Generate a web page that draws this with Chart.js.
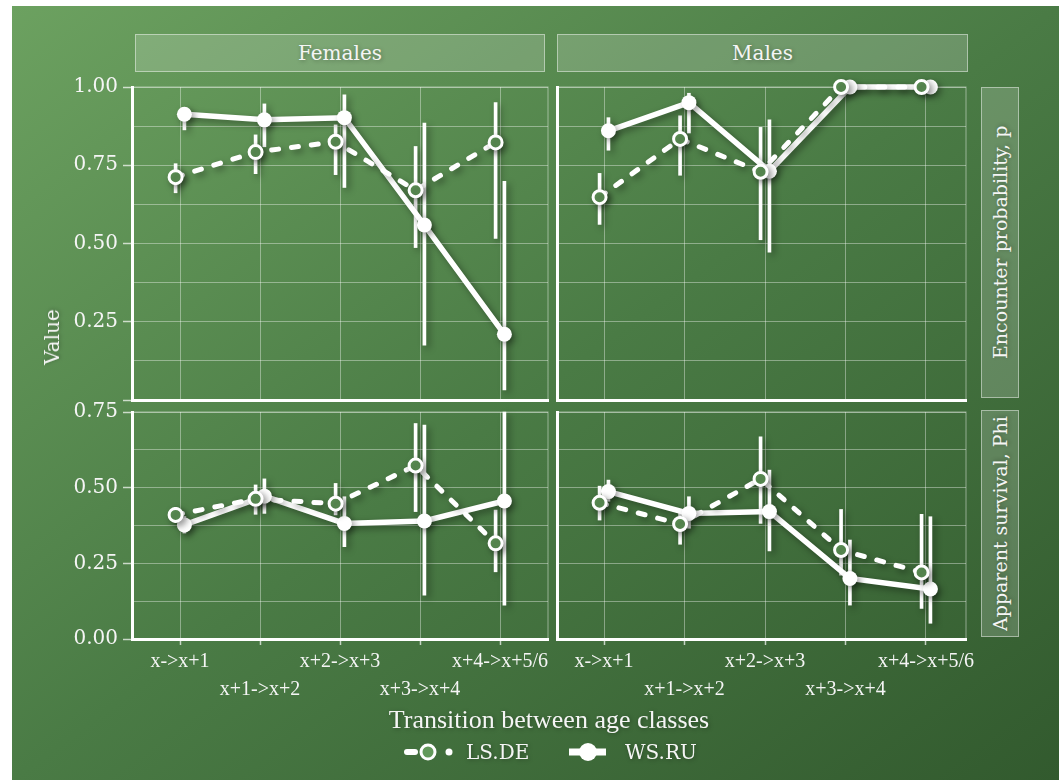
<!DOCTYPE html>
<html>
<head>
<meta charset="utf-8">
<script src="https://cdn.jsdelivr.net/npm/chart.js@4.4.1/dist/chart.umd.min.js"></script>
<style>
body { margin: 0; width: 1063px; height: 780px; background: #fff; position: relative; overflow: hidden; font-family: "DejaVu Serif", serif; color: #f5f5f5; }
#bg { position: absolute; left: 12px; top: 6px; width: 1047px; height: 774px; background: linear-gradient(to bottom right, #6ca160 0%, #4a7b45 50%, #325a2e 100%); }
canvas { position: absolute; }
.strip { position: absolute; box-sizing: border-box; background: rgba(255,255,255,0.18); border: 1.5px solid rgba(255,255,255,0.45); display: flex; align-items: center; justify-content: center; font-size: 20px; text-shadow: 1px 1px 4px rgba(0,0,0,0.3); }
.vert { writing-mode: vertical-rl; transform: rotate(180deg); font-size: 19px; }
.lbl { position: absolute; text-shadow: 1px 1px 4px rgba(0,0,0,0.35); white-space: nowrap; }
</style>
</head>
<body>
<div id="bg"></div>

<div class="strip" style="left:135px;top:34px;width:410px;height:38px;">Females</div>
<div class="strip" style="left:557px;top:34px;width:411px;height:38px;">Males</div>
<div class="strip vert" style="left:981px;top:87px;width:38px;height:311px;">Encounter probability, p</div>
<div class="strip vert" style="left:981px;top:410px;width:38px;height:227px;">Apparent survival, Phi</div>

<canvas id="femP"></canvas>
<canvas id="maleP"></canvas>
<canvas id="femS"></canvas>
<canvas id="maleS"></canvas>

<div class="lbl" style="left:52px;top:337px;transform:translate(-50%,-50%) rotate(-90deg);font-size:20px;">Value</div>
<div class="lbl" style="left:549px;top:720px;transform:translate(-50%,-50%);font-family:'Liberation Serif';font-size:26px;">Transition between age classes</div>

<svg style="position:absolute;left:398px;top:740px;" width="64" height="24">
  <line x1="9" y1="12" x2="17" y2="12" stroke="#fff" stroke-width="6" stroke-linecap="round"/>
  <circle cx="30" cy="12" r="7" fill="#62995a" stroke="#fff" stroke-width="3"/>
  <circle cx="51" cy="12" r="3.5" fill="#fff"/>
</svg>
<div class="lbl" style="left:466px;top:740px;font-size:20px;line-height:24px;">LS.DE</div>
<svg style="position:absolute;left:562px;top:740px;" width="52" height="24">
  <line x1="7" y1="12" x2="44" y2="12" stroke="#fff" stroke-width="7"/>
  <circle cx="26" cy="12" r="9" fill="#fff"/>
</svg>
<div class="lbl" style="left:625px;top:740px;font-size:20px;line-height:24px;">WS.RU</div>

<script>
const cats = ['x->x+1', 'x+1->x+2', 'x+2->x+3', 'x+3->x+4', 'x+4->x+5/6'];

// Females, encounter probability p
const femPLs = [0.712, 0.792, 0.825, 0.670, 0.823];
const femPLsLo = [0.662, 0.723, 0.720, 0.487, 0.516];
const femPLsHi = [0.755, 0.847, 0.879, 0.810, 0.950];
const femPWs = [0.913, 0.895, 0.902, 0.559, 0.210];
const femPWsLo = [0.863, 0.809, 0.679, 0.175, 0.032];
const femPWsHi = [0.935, 0.946, 0.975, 0.885, 0.699];

// Males, encounter probability p
const malePLs = [0.648, 0.834, 0.729, 1.0, 1.0];
const malePLsLo = [0.561, 0.718, 0.512, 1.0, 1.0];
const malePLsHi = [0.724, 0.908, 0.871, 1.0, 1.0];
const malePWs = [0.860, 0.950, 0.731, 1.0, 1.0];
const malePWsLo = [0.798, 0.853, 0.472, 1.0, 1.0];
const malePWsHi = [0.902, 0.980, 0.895, 1.0, 1.0];

// Females, apparent survival Phi
const femSLs = [0.410, 0.463, 0.447, 0.573, 0.316];
const femSLsLo = [0.385, 0.412, 0.410, 0.421, 0.222];
const femSLsHi = [0.435, 0.509, 0.514, 0.712, 0.426];
const femSWs = [0.377, 0.472, 0.382, 0.390, 0.456];
const femSWsLo = [0.350, 0.415, 0.305, 0.145, 0.112];
const femSWsHi = [0.405, 0.529, 0.470, 0.707, 0.750];

// Males, apparent survival Phi
const maleSLs = [0.450, 0.380, 0.529, 0.294, 0.220];
const maleSLsLo = [0.393, 0.313, 0.382, 0.211, 0.101];
const maleSLsHi = [0.505, 0.426, 0.668, 0.428, 0.412];
const maleSWs = [0.487, 0.415, 0.421, 0.200, 0.165];
const maleSWsLo = [0.455, 0.366, 0.291, 0.112, 0.052];
const maleSWsHi = [0.525, 0.470, 0.558, 0.327, 0.404];

const dodge = 0.055;
const gridCol = 'rgba(255,255,255,0.38)';
const tickCol = 'rgba(255,255,255,0.7)';
const txtCol = '#f5f5f5';
const dotFill = '#62995a';

function pts(vals, off) {
    return vals.map((v, i) => ({x: i + off, y: v}));
}
function errs(lo, hi, off) {
    return lo.map((v, i) => ({x: i + off, y: [v, hi[i]]}));
}
function isMajor(v) {
    return Math.abs(v * 4 - Math.round(v * 4)) < 1e-6;
}

// thin panel border + drop shadow under the marks
const panelFx = {
    id: 'panelFx',
    beforeDatasetsDraw(chart) {
        const {ctx, chartArea: a} = chart;
        ctx.save();
        ctx.strokeStyle = 'rgba(255,255,255,0.45)';
        ctx.lineWidth = 1;
        ctx.strokeRect(a.left, a.top, a.right - a.left, a.bottom - a.top);
        ctx.restore();
        ctx.save();
        ctx.shadowColor = 'rgba(0,0,0,0.4)';
        ctx.shadowBlur = 7;
        ctx.shadowOffsetX = 3;
        ctx.shadowOffsetY = 3;
    },
    afterDatasetsDraw(chart) {
        chart.ctx.restore();
    }
};

function makePanel(id, p, ls, lsLo, lsHi, ws, wsLo, wsHi) {
    const pad = 12;
    const yW = p.showY ? 72 : 0;
    const xH = p.showX ? 75 : 0;
    const padL = p.showY ? 0 : pad;
    const padB = p.showX ? 0 : pad;
    const cv = document.getElementById(id);
    cv.width = (p.r - p.l) + yW + padL + pad;
    cv.height = (p.b - p.t) + pad + xH + padB;
    cv.style.left = (p.l - yW - padL) + 'px';
    cv.style.top = (p.t - pad) + 'px';

    const yTicks = [];
    for (let v = 0; v <= p.yMax + 1e-9; v += 0.125) yTicks.push(v);

    return new Chart(cv.getContext('2d'), {
        type: 'line',
        data: {
            datasets: [
                {type: 'bar', data: errs(lsLo, lsHi, -dodge), backgroundColor: '#fff', barThickness: 3, grouped: false, borderWidth: 0, order: 6, clip: false},
                {type: 'bar', data: errs(wsLo, wsHi, dodge), backgroundColor: '#fff', barThickness: 3, grouped: false, borderWidth: 0, order: 5, clip: false},
                {label: 'LS.DE', data: pts(ls, -dodge), borderColor: '#fff', borderWidth: 5, borderDash: [7, 13], borderCapStyle: 'round', pointRadius: 0, order: 3, clip: false},
                {label: 'WS.RU', data: pts(ws, dodge), borderColor: '#fff', borderWidth: 5.5, pointRadius: 0, order: 4, clip: false},
                {data: pts(ls, -dodge), showLine: false, pointRadius: 6.5, pointBorderWidth: 3, pointBackgroundColor: dotFill, pointBorderColor: '#fff', order: 1, clip: false},
                {data: pts(ws, dodge), showLine: false, pointRadius: 7.5, pointBorderWidth: 0, pointBackgroundColor: '#fff', pointBorderColor: '#fff', order: 2, clip: false}
            ]
        },
        options: {
            responsive: false,
            animation: false,
            events: [],
            layout: {padding: {left: padL, top: pad, right: pad, bottom: padB}},
            plugins: {legend: {display: false}, tooltip: {enabled: false}},
            scales: {
                x: {
                    type: 'linear', min: p.xMin, max: p.xMax, offset: false,
                    afterBuildTicks: s => { s.ticks = cats.map((c, i) => ({value: i})); },
                    afterFit: s => { s.height = xH; s.paddingLeft = 0; s.paddingRight = 0; },
                    grid: {offset: false, color: gridCol, lineWidth: 1, drawTicks: p.showX, tickLength: 6, tickColor: tickCol, tickWidth: 1.5},
                    border: {color: '#fff', width: 3},
                    ticks: {
                        display: p.showX, padding: 3, color: txtCol, maxRotation: 0, autoSkip: false,
                        font: {family: 'Liberation Serif', size: 20, lineHeight: 1.4},
                        callback: v => (v % 2 ? ['', cats[v]] : cats[v])
                    }
                },
                y: {
                    min: 0, max: p.yMax,
                    afterBuildTicks: s => { s.ticks = yTicks.map(v => ({value: v})); },
                    afterFit: s => { s.width = yW; s.paddingTop = 0; s.paddingBottom = 0; },
                    grid: {
                        offset: false, color: gridCol, lineWidth: 1, drawTicks: p.showY, tickLength: 9, tickWidth: 1.5,
                        tickColor: c => (c.tick && isMajor(c.tick.value) ? tickCol : 'rgba(0,0,0,0)')
                    },
                    border: {color: '#fff', width: 3},
                    ticks: {
                        display: p.showY, padding: 5, color: txtCol,
                        font: {family: 'DejaVu Serif', size: 20},
                        callback: v => {
                            if (!isMajor(v)) return '';
                            if (p.hideZero && v === 0) return '';
                            return v.toFixed(2);
                        }
                    }
                }
            }
        },
        plugins: [panelFx]
    });
}

makePanel('femP', {l: 132, t: 87, r: 548, b: 400, xMin: -0.6, xMax: 4.6, yMax: 1, showY: true, showX: false, hideZero: true},
    femPLs, femPLsLo, femPLsHi, femPWs, femPWsLo, femPWsHi);
makePanel('maleP', {l: 557, t: 87, r: 966, b: 400, xMin: -0.584, xMax: 4.497, yMax: 1, showY: false, showX: false},
    malePLs, malePLsLo, malePLsHi, malePWs, malePWsLo, malePWsHi);
makePanel('femS', {l: 132, t: 412, r: 548, b: 639, xMin: -0.6, xMax: 4.6, yMax: 0.75, showY: true, showX: true},
    femSLs, femSLsLo, femSLsHi, femSWs, femSWsLo, femSWsHi);
makePanel('maleS', {l: 557, t: 412, r: 966, b: 639, xMin: -0.584, xMax: 4.497, yMax: 0.75, showY: false, showX: true},
    maleSLs, maleSLsLo, maleSLsHi, maleSWs, maleSWsLo, maleSWsHi);
</script>
</body>
</html>
